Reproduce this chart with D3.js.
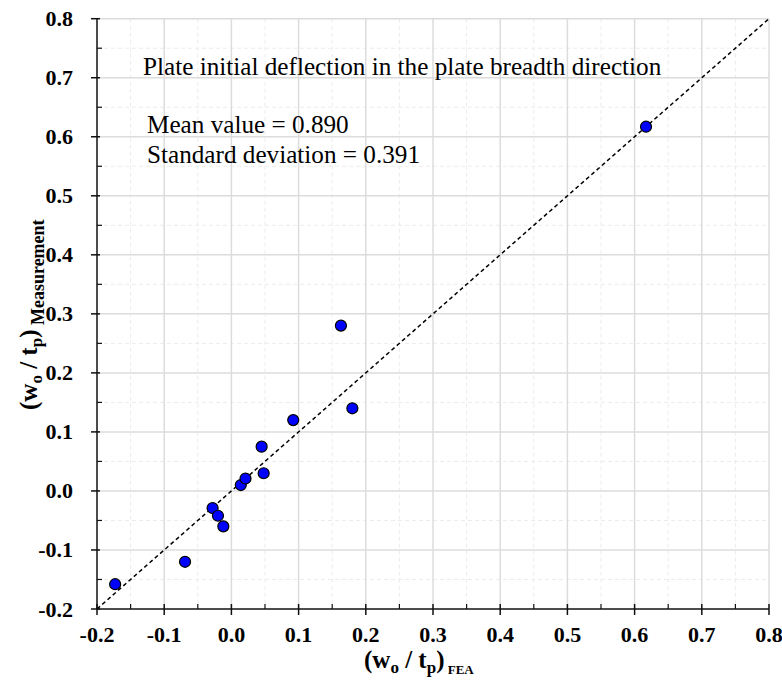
<!DOCTYPE html>
<html>
  <head>
    <meta charset="utf-8">
    <script src="https://unpkg.com/d3@7/dist/d3.min.js"></script>
    <style>
      body { margin: 0; background: #fff; }
      text { font-family: "Liberation Serif", "Times New Roman", serif; }
      .tick-label { font-weight: bold; font-size: 22px; }
      .axis-title { font-weight: bold; }
      .note { font-size: 25.2px; }
    </style>
  </head>
  <body>
    <script>
      const feaValues = [-0.173, -0.069, -0.028, -0.020, -0.012, 0.014, 0.021, 0.045, 0.048, 0.092, 0.163, 0.180, 0.617];
      const measuredValues = [-0.158, -0.120, -0.029, -0.042, -0.060, 0.010, 0.021, 0.075, 0.030, 0.120, 0.280, 0.140, 0.617];
      const majorTicks = [-0.2, -0.1, 0.0, 0.1, 0.2, 0.3, 0.4, 0.5, 0.6, 0.7, 0.8];
      const minorTicks = [-0.15, -0.05, 0.05, 0.15, 0.25, 0.35, 0.45, 0.55, 0.65, 0.75];
      const tickLabels = ['-0.2', '-0.1', '0.0', '0.1', '0.2', '0.3', '0.4', '0.5', '0.6', '0.7', '0.8'];
      const noteLines = ['Plate initial deflection in the plate breadth direction', 'Mean value = 0.890', 'Standard deviation = 0.391'];

      const width = 782;
      const height = 687;
      const plotL = 97, plotR = 769, plotT = 18.7, plotB = 609;

      const x = d3.scaleLinear().domain([-0.2, 0.8]).range([plotL, plotR]);
      const y = d3.scaleLinear().domain([-0.2, 0.8]).range([plotB, plotT]);

      const svg = d3.select('body')
        .append('svg')
        .attr('width', width)
        .attr('height', height);

      // minor grid
      svg.append('g').selectAll('line').data(minorTicks).enter().append('line')
        .attr('x1', d => x(d)).attr('x2', d => x(d)).attr('y1', plotT).attr('y2', plotB)
        .style('stroke', '#ececec').style('stroke-width', 1).style('stroke-dasharray', '4,3');
      svg.append('g').selectAll('line').data(minorTicks).enter().append('line')
        .attr('y1', d => y(d)).attr('y2', d => y(d)).attr('x1', plotL).attr('x2', plotR)
        .style('stroke', '#ececec').style('stroke-width', 1).style('stroke-dasharray', '4,3');

      // major grid
      svg.append('g').selectAll('line').data(majorTicks.slice(1)).enter().append('line')
        .attr('x1', d => x(d)).attr('x2', d => x(d)).attr('y1', plotT).attr('y2', plotB)
        .style('stroke', '#dcdcdc').style('stroke-width', 1.5);
      svg.append('g').selectAll('line').data(majorTicks.slice(1)).enter().append('line')
        .attr('y1', d => y(d)).attr('y2', d => y(d)).attr('x1', plotL).attr('x2', plotR)
        .style('stroke', '#dcdcdc').style('stroke-width', 1.5);

      // 1:1 line
      svg.append('line')
        .attr('x1', x(-0.2)).attr('y1', y(-0.2))
        .attr('x2', x(0.8)).attr('y2', y(0.8))
        .style('stroke', '#000').style('stroke-width', 1.5).style('stroke-dasharray', '4,3');

      // axes
      const xAxis = svg.append('g');
      xAxis.append('line').attr('x1', plotL).attr('x2', plotR).attr('y1', plotB).attr('y2', plotB)
        .style('stroke', '#111').style('stroke-width', 1.5);
      xAxis.selectAll('.maj').data(majorTicks).enter().append('line')
        .attr('x1', d => x(d)).attr('x2', d => x(d)).attr('y1', plotB - 5).attr('y2', plotB + 6)
        .style('stroke', '#111').style('stroke-width', 1.5);
      xAxis.selectAll('.min').data(minorTicks).enter().append('line')
        .attr('x1', d => x(d)).attr('x2', d => x(d)).attr('y1', plotB - 5).attr('y2', plotB)
        .style('stroke', '#111').style('stroke-width', 1.2);
      xAxis.selectAll('text').data(majorTicks).enter().append('text')
        .attr('class', 'tick-label')
        .attr('x', d => x(d)).attr('y', 642)
        .attr('text-anchor', 'middle')
        .text((d, i) => tickLabels[i]);

      const yAxis = svg.append('g');
      yAxis.append('line').attr('x1', plotL).attr('x2', plotL).attr('y1', plotT).attr('y2', plotB)
        .style('stroke', '#111').style('stroke-width', 1.5);
      yAxis.selectAll('.maj').data(majorTicks).enter().append('line')
        .attr('y1', d => y(d)).attr('y2', d => y(d)).attr('x1', plotL - 6).attr('x2', plotL + 3)
        .style('stroke', '#111').style('stroke-width', 1.5);
      yAxis.selectAll('.min').data(minorTicks).enter().append('line')
        .attr('y1', d => y(d)).attr('y2', d => y(d)).attr('x1', plotL).attr('x2', plotL + 5)
        .style('stroke', '#111').style('stroke-width', 1.2);
      yAxis.selectAll('text').data(majorTicks).enter().append('text')
        .attr('class', 'tick-label')
        .attr('x', 73).attr('y', d => y(d) + 7.5)
        .attr('text-anchor', 'end')
        .text((d, i) => tickLabels[i]);

      // axis titles
      const xt = svg.append('text').attr('class', 'axis-title')
        .attr('x', 364).attr('y', 668).style('font-size', '25px');
      xt.append('tspan').text('(w');
      xt.append('tspan').attr('dy', 5).style('font-size', '17px').text('o');
      xt.append('tspan').attr('dy', -5).text(' / t');
      xt.append('tspan').attr('dy', 5).style('font-size', '17px').text('p');
      xt.append('tspan').attr('dy', -5).text(')');
      xt.append('tspan').attr('dy', 6).style('font-size', '13px').text(' FEA');

      const yt = svg.append('text').attr('class', 'axis-title')
        .attr('transform', 'translate(37,410) rotate(-90)')
        .style('font-size', '25px');
      yt.append('tspan').text('(w');
      yt.append('tspan').attr('dy', 5).style('font-size', '17px').text('o');
      yt.append('tspan').attr('dy', -5).text(' / t');
      yt.append('tspan').attr('dy', 5).style('font-size', '17px').text('p');
      yt.append('tspan').attr('dy', -5).text(')');
      yt.append('tspan').attr('dy', 7).style('font-size', '18px').text(' Measurement');

      // notes
      svg.append('text').attr('class', 'note').attr('x', 143).attr('y', 75).text(noteLines[0]);
      svg.append('text').attr('class', 'note').attr('x', 147).attr('y', 133).text(noteLines[1]);
      svg.append('text').attr('class', 'note').attr('x', 147).attr('y', 163).text(noteLines[2]);

      // points
      svg.append('g').selectAll('circle').data(feaValues).enter().append('circle')
        .attr('cx', d => x(d))
        .attr('cy', (d, i) => y(measuredValues[i]))
        .attr('r', 5.5)
        .style('fill', '#0000ff')
        .style('stroke', '#000')
        .style('stroke-width', 1.2);
    </script>
  </body>
</html>
